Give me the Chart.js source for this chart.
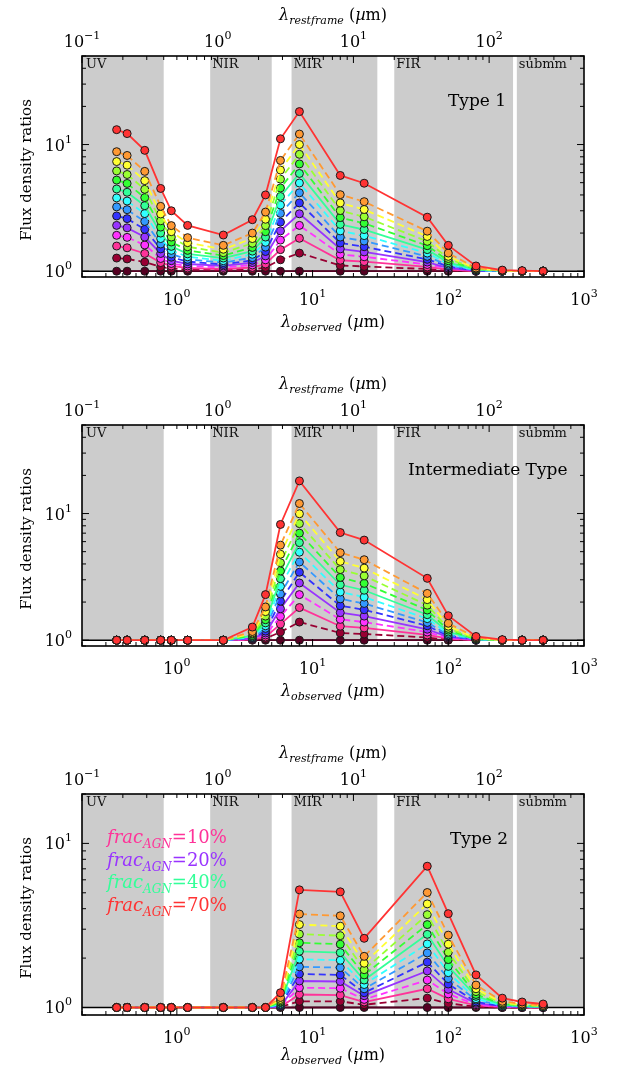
<!DOCTYPE html>
<html>
<head>
<meta charset="utf-8">
<script src="https://cdn.jsdelivr.net/npm/chart.js@4.4.1/dist/chart.umd.min.js"></script>
<style>
  html, body { margin: 0; padding: 0; background: #fff; }
  #wrap { position: relative; width: 617px; height: 1073px; overflow: hidden; }
  canvas { position: absolute; left: 0; }
</style>
</head>
<body>
<div id="wrap">
  <canvas id="p1" width="617" height="369" style="top:0px"></canvas>
  <canvas id="p2" width="617" height="369" style="top:369px"></canvas>
  <canvas id="p3" width="617" height="369" style="top:738px"></canvas>
</div>
<script>
// ---- data ----
const obsWave = [0.36, 0.43, 0.58, 0.76, 0.91, 1.2, 2.2, 3.6, 4.5, 5.8, 8.0, 16, 24, 70, 100, 160, 250, 350, 500];
const fracAGN = [0, 5, 10, 15, 20, 25, 30, 35, 40, 45, 50, 55, 60, 70];
const solidFracs = [0, 10, 20, 40, 70];
const legendFracs = [10, 20, 40, 70];
const seriesColors = ['#550022', '#990033', '#ff3399', '#ff33ff', '#9933ff', '#3333ff', '#3399ff',
                      '#33ffff', '#33ff99', '#33ff33', '#99ff33', '#ffff33', '#ff9933', '#ff3333'];

// one row per fracAGN value, one column per obsWave value
const type1Ratios = [
  [1, 1, 1, 1, 1, 1, 1, 1, 1, 1, 1, 1, 1, 1, 1, 1, 1, 1, 1],
  [1.27, 1.25, 1.18, 1.08, 1.05, 1.03, 1.02, 1.03, 1.07, 1.23, 1.39, 1.11, 1.09, 1.04, 1.01, 1, 1, 1, 1],
  [1.58, 1.53, 1.38, 1.17, 1.10, 1.06, 1.04, 1.07, 1.14, 1.48, 1.82, 1.22, 1.19, 1.08, 1.03, 1, 1, 1, 1],
  [1.92, 1.85, 1.61, 1.26, 1.15, 1.10, 1.07, 1.12, 1.23, 1.76, 2.30, 1.36, 1.30, 1.13, 1.05, 1.01, 1, 1, 1],
  [2.30, 2.20, 1.86, 1.38, 1.21, 1.14, 1.10, 1.17, 1.32, 2.08, 2.84, 1.50, 1.42, 1.18, 1.06, 1.01, 1, 1, 1],
  [2.73, 2.60, 2.14, 1.50, 1.29, 1.19, 1.13, 1.22, 1.43, 2.44, 3.46, 1.67, 1.56, 1.24, 1.09, 1.01, 1, 1, 1],
  [3.22, 3.06, 2.47, 1.64, 1.37, 1.24, 1.17, 1.28, 1.55, 2.86, 4.16, 1.86, 1.73, 1.31, 1.11, 1.02, 1, 1, 1],
  [3.79, 3.58, 2.85, 1.81, 1.46, 1.30, 1.21, 1.36, 1.69, 3.33, 4.97, 2.08, 1.91, 1.39, 1.14, 1.02, 1, 1, 1],
  [4.46, 4.20, 3.29, 2.00, 1.57, 1.37, 1.27, 1.44, 1.86, 3.89, 5.91, 2.34, 2.13, 1.48, 1.17, 1.03, 1.01, 1, 1],
  [5.24, 4.93, 3.81, 2.23, 1.70, 1.46, 1.33, 1.54, 2.05, 4.54, 7.03, 2.65, 2.39, 1.59, 1.21, 1.04, 1.01, 1, 1],
  [6.19, 5.80, 4.43, 2.50, 1.86, 1.56, 1.40, 1.66, 2.29, 5.33, 8.37, 3.01, 2.69, 1.72, 1.26, 1.04, 1.01, 1, 1],
  [7.34, 6.87, 5.19, 2.83, 2.05, 1.68, 1.49, 1.81, 2.57, 6.29, 10.0, 3.46, 3.07, 1.88, 1.31, 1.05, 1.01, 1, 1],
  [8.78, 8.20, 6.14, 3.25, 2.29, 1.84, 1.60, 2.00, 2.93, 7.49, 12.1, 4.02, 3.54, 2.07, 1.39, 1.06, 1.01, 1, 1],
  [13.1, 12.2, 9.0, 4.5, 3.0, 2.3, 1.93, 2.55, 4.0, 11.1, 18.2, 5.7, 4.95, 2.67, 1.6, 1.10, 1.02, 1.01, 1]
];

const interRatios = [
  [1, 1, 1, 1, 1, 1, 1, 1, 1, 1, 1, 1, 1, 1, 1, 1, 1, 1, 1],
  [1, 1, 1, 1, 1, 1, 1, 1.01, 1.03, 1.16, 1.39, 1.14, 1.12, 1.05, 1.01, 1, 1, 1, 1],
  [1, 1, 1, 1, 1, 1, 1, 1.01, 1.06, 1.34, 1.81, 1.29, 1.25, 1.10, 1.03, 1, 1, 1, 1],
  [1, 1, 1, 1, 1, 1, 1, 1.02, 1.10, 1.54, 2.29, 1.46, 1.39, 1.16, 1.04, 1.01, 1, 1, 1],
  [1, 1, 1, 1, 1, 1, 1, 1.03, 1.14, 1.77, 2.83, 1.65, 1.55, 1.22, 1.06, 1.01, 1, 1, 1],
  [1, 1, 1, 1, 1, 1, 1, 1.04, 1.18, 2.03, 3.44, 1.87, 1.74, 1.30, 1.08, 1.01, 1, 1, 1],
  [1, 1, 1, 1, 1, 1, 1, 1.05, 1.24, 2.32, 4.14, 2.12, 1.95, 1.38, 1.10, 1.01, 1, 1, 1],
  [1, 1, 1, 1, 1, 1, 1, 1.06, 1.30, 2.66, 4.95, 2.40, 2.19, 1.48, 1.13, 1.02, 1, 1, 1],
  [1, 1, 1, 1, 1, 1, 1, 1.08, 1.37, 3.06, 5.89, 2.74, 2.48, 1.59, 1.16, 1.02, 1, 1, 1],
  [1, 1, 1, 1, 1, 1, 1, 1.09, 1.45, 3.52, 7.00, 3.13, 2.81, 1.73, 1.20, 1.02, 1, 1, 1],
  [1, 1, 1, 1, 1, 1, 1, 1.12, 1.55, 4.09, 8.33, 3.61, 3.22, 1.89, 1.24, 1.03, 1, 1, 1],
  [1, 1, 1, 1, 1, 1, 1, 1.14, 1.68, 4.77, 9.96, 4.19, 3.71, 2.09, 1.29, 1.04, 1, 1, 1],
  [1, 1, 1, 1, 1, 1, 1, 1.17, 1.83, 5.63, 12.0, 4.91, 4.32, 2.34, 1.36, 1.05, 1, 1, 1],
  [1, 1, 1, 1, 1, 1, 1, 1.27, 2.29, 8.2, 18.1, 7.08, 6.17, 3.08, 1.56, 1.07, 1.01, 1, 1]
];

const type2Ratios = [
  [1, 1, 1, 1, 1, 1, 1, 1, 1, 1, 1, 1, 1, 1, 1, 1, 1, 1, 1],
  [1, 1, 1, 1, 1, 1, 1, 1, 1, 1.01, 1.09, 1.09, 1.04, 1.14, 1.06, 1.01, 1.00, 1.00, 1.00],
  [1, 1, 1, 1, 1, 1, 1, 1, 1, 1.01, 1.20, 1.19, 1.08, 1.30, 1.13, 1.03, 1.01, 1.00, 1.00],
  [1, 1, 1, 1, 1, 1, 1, 1, 1, 1.02, 1.32, 1.31, 1.12, 1.47, 1.21, 1.04, 1.01, 1.01, 1.00],
  [1, 1, 1, 1, 1, 1, 1, 1, 1, 1.02, 1.45, 1.44, 1.18, 1.67, 1.29, 1.06, 1.02, 1.01, 1.01],
  [1, 1, 1, 1, 1, 1, 1, 1, 1, 1.03, 1.60, 1.58, 1.23, 1.89, 1.39, 1.08, 1.02, 1.01, 1.01],
  [1, 1, 1, 1, 1, 1, 1, 1, 1, 1.04, 1.77, 1.75, 1.30, 2.15, 1.50, 1.11, 1.03, 1.01, 1.01],
  [1, 1, 1, 1, 1, 1, 1, 1, 1, 1.05, 1.97, 1.94, 1.38, 2.44, 1.63, 1.13, 1.03, 1.02, 1.01],
  [1, 1, 1, 1, 1, 1, 1, 1, 1, 1.07, 2.20, 2.16, 1.47, 2.79, 1.78, 1.17, 1.04, 1.02, 1.01],
  [1, 1, 1, 1, 1, 1, 1, 1, 1, 1.08, 2.48, 2.43, 1.58, 3.20, 1.96, 1.20, 1.05, 1.03, 1.02],
  [1, 1, 1, 1, 1, 1, 1, 1, 1, 1.10, 2.80, 2.74, 1.70, 3.68, 2.17, 1.25, 1.06, 1.03, 1.02],
  [1, 1, 1, 1, 1, 1, 1, 1, 1, 1.12, 3.20, 3.13, 1.86, 4.28, 2.43, 1.30, 1.07, 1.04, 1.03],
  [1, 1, 1, 1, 1, 1, 1, 1, 1, 1.15, 3.71, 3.62, 2.05, 5.02, 2.76, 1.37, 1.09, 1.05, 1.03],
  [1, 1, 1, 1, 1, 1, 1, 1, 1, 1.23, 5.21, 5.07, 2.64, 7.26, 3.73, 1.58, 1.14, 1.08, 1.05]
];

// wavelength bands (observed frame, micron)
const bandNames = ['UV', 'NIR', 'MIR', 'FIR', 'submm'];
const bandStart = [0.2, 1.76, 7.0, 40, 320];
const bandEnd = [0.8, 5.0, 30, 300, 1000];

// tick labels (powers of ten)
const obsTickExp = [0, 1, 2, 3];
const restTickExp = [-1, 0, 1, 2];
const yTickExp = [0, 1];

// ---- layout ----
const PLOT = { left: 82, right: 584, top: 56, bottom: 277 };
const FONT = '"DejaVu Serif", "Liberation Serif", serif';

function f(size, style) { return (style ? style + ' ' : '') + size + 'px ' + FONT; }

// draw a list of [text, font, dy] runs as one line
function drawRuns(ctx, runs, x, y, align) {
    let w = 0;
    runs.forEach(r => { ctx.font = r[1]; w += ctx.measureText(r[0]).width; });
    let cx = align === 'center' ? x - w / 2 : (align === 'right' ? x - w : x);
    ctx.textAlign = 'left';
    ctx.textBaseline = 'alphabetic';
    runs.forEach(r => { ctx.font = r[1]; ctx.fillText(r[0], cx, y + r[2]); cx += ctx.measureText(r[0]).width; });
}

function powRuns(e) {
    return [['10', f(16), 0], [String(e).replace('-', '\u2212'), f(11), -8]];
}

function minorTicks(lo, hi) {
    const out = [];
    for (let d = Math.floor(Math.log10(lo)); d <= Math.ceil(Math.log10(hi)); d++) {
        for (let k = 2; k <= 9; k++) {
            const v = k * Math.pow(10, d);
            if (v >= lo * 0.999 && v <= hi * 1.001) out.push(v);
        }
    }
    return out;
}

const framePlugin = {
    id: 'frame',
    beforeDatasetsDraw(chart) {
        const { ctx, chartArea: a, scales: { x, y } } = chart;
        const y1 = y.getPixelForValue(1);
        ctx.save();
        ctx.fillStyle = '#cccccc';
        bandStart.forEach((s, i) => {
            const x0 = x.getPixelForValue(s), x1 = x.getPixelForValue(bandEnd[i]);
            ctx.fillRect(x0, a.top, x1 - x0, y1 - a.top);
        });
        ctx.fillStyle = '#111';
        bandNames.forEach((n, i) => {
            const x0 = i === 0 ? a.left + 4 : x.getPixelForValue(bandStart[i]) + 2;
            drawRuns(ctx, [[n, f(13), 0]], x0, a.top + 12, 'left');
        });
        ctx.strokeStyle = '#000';
        ctx.lineWidth = 1.5;
        ctx.beginPath();
        ctx.moveTo(a.left, y1);
        ctx.lineTo(a.right, y1);
        ctx.stroke();
        ctx.restore();
    },
    afterDraw(chart, args, opts) {
        const { ctx, chartArea: a, scales: { x, x2, y } } = chart;
        ctx.save();
        ctx.strokeStyle = '#000';
        ctx.fillStyle = '#000';
        ctx.lineWidth = 1;
        const tick = (x0, y0, x1, y1) => { ctx.beginPath(); ctx.moveTo(x0, y0); ctx.lineTo(x1, y1); ctx.stroke(); };

        // bottom (observed) ticks
        obsTickExp.forEach(e => { const px = x.getPixelForValue(Math.pow(10, e)); tick(px, a.bottom, px, a.bottom - 7); });
        minorTicks(0.2, 1000).forEach(v => { const px = x.getPixelForValue(v); tick(px, a.bottom, px, a.bottom - 4); });
        // top (rest-frame) ticks
        restTickExp.forEach(e => { const px = x2.getPixelForValue(Math.pow(10, e)); tick(px, a.top, px, a.top + 7); });
        minorTicks(0.1, 500).forEach(v => { const px = x2.getPixelForValue(v); tick(px, a.top, px, a.top + 4); });
        // y ticks both sides
        yTickExp.forEach(e => {
            const py = y.getPixelForValue(Math.pow(10, e));
            tick(a.left, py, a.left + 7, py); tick(a.right, py, a.right - 7, py);
        });
        minorTicks(y.min, y.max).forEach(v => {
            const py = y.getPixelForValue(v);
            tick(a.left, py, a.left + 4, py); tick(a.right, py, a.right - 4, py);
        });

        // frame
        ctx.lineWidth = 1.6;
        ctx.strokeRect(a.left, a.top, a.right - a.left, a.bottom - a.top);

        // tick labels
        obsTickExp.forEach(e => drawRuns(ctx, powRuns(e), x.getPixelForValue(Math.pow(10, e)), a.bottom + 28, 'center'));
        restTickExp.forEach(e => drawRuns(ctx, powRuns(e), x2.getPixelForValue(Math.pow(10, e)), a.top - 9, 'center'));
        yTickExp.forEach(e => drawRuns(ctx, powRuns(e), a.left - 10, y.getPixelForValue(Math.pow(10, e)) + 6, 'right'));

        // axis titles
        drawRuns(ctx, [['\u03bb', f(16, 'italic'), 0], ['restframe', f(11, 'italic'), 4], [' (', f(16), 0],
                       ['\u00b5', f(16, 'italic'), 0], ['m)', f(16), 0]], (a.left + a.right) / 2, 20, 'center');
        drawRuns(ctx, [['\u03bb', f(16, 'italic'), 0], ['observed', f(11, 'italic'), 4], [' (', f(16), 0],
                       ['\u00b5', f(16, 'italic'), 0], ['m)', f(16), 0]], (a.left + a.right) / 2, a.bottom + opts.xTitleDy, 'center');
        ctx.save();
        ctx.translate(26, 170);
        ctx.rotate(-Math.PI / 2);
        drawRuns(ctx, [['Flux density ratios', f(15), 0]], 0, 5, 'center');
        ctx.restore();

        // panel label
        drawRuns(ctx, [[opts.label, f(17), 0]], opts.labelX, a.top + 50, 'left');

        // legend text
        if (opts.legend) {
            legendFracs.forEach((fr, i) => {
                ctx.fillStyle = seriesColors[fracAGN.indexOf(fr)];
                drawRuns(ctx, [['frac', f(18, 'italic'), 0], ['AGN', f(12, 'italic'), 5], ['=' + fr + '%', f(18), 0]],
                         107, a.top + 49 + i * 22.5, 'left');
            });
        }
        ctx.restore();
    }
};

function makePanel(id, ratios, yMax, label, labelX, legend, xTitleDy) {
    const cv = document.getElementById(id);
    const datasets = fracAGN.map((fr, j) => ({
        label: 'frac_AGN=' + fr + '%',
        data: obsWave.map((w, i) => ({ x: w, y: ratios[j][i] })),
        borderColor: seriesColors[j],
        backgroundColor: seriesColors[j],
        pointBackgroundColor: seriesColors[j],
        pointBorderColor: '#1a1a1a',
        pointBorderWidth: 1,
        pointRadius: 4,
        borderWidth: 1.8,
        borderDash: solidFracs.includes(fr) ? [] : [7, 4],
        order: fracAGN.length - 1 - j,
        clip: false,
        tension: 0
    }));
    return new Chart(cv, {
        type: 'line',
        data: { datasets },
        options: {
            responsive: false,
            animation: false,
            devicePixelRatio: 1,
            layout: { padding: { left: PLOT.left, right: cv.width - PLOT.right, top: PLOT.top, bottom: cv.height - PLOT.bottom } },
            scales: {
                x: { type: 'logarithmic', min: 0.2, max: 1000, display: false },
                x2: { type: 'logarithmic', min: 0.1, max: 500, display: false, position: 'top' },
                y: { type: 'logarithmic', min: 0.9, max: yMax, display: false }
            },
            plugins: {
                legend: { display: false },
                tooltip: { enabled: false },
                frame: { label, labelX, legend, xTitleDy }
            }
        },
        plugins: [framePlugin]
    });
}

makePanel('p1', type1Ratios, 50, 'Type 1', 448, false, 50);
makePanel('p2', interRatios, 50, 'Intermediate Type', 408, false, 50);
makePanel('p3', type2Ratios, 20, 'Type 2', 450, true, 45);
</script>
</body>
</html>
